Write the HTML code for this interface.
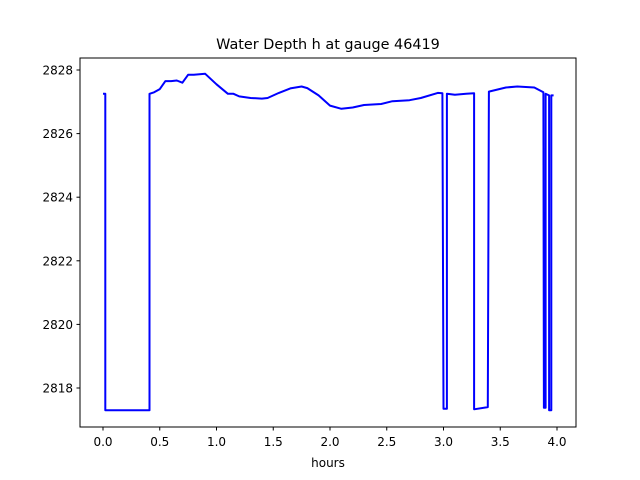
<!DOCTYPE html>
<html><head><meta charset="utf-8"><style>body{margin:0;background:#fff}svg{display:block;font-family:"DejaVu Sans","Liberation Sans",sans-serif}</style></head>
<body>
<svg id="chart" width="640" height="480">
<rect width="640" height="480" fill="#fff"/>
<text x="328" y="49" text-anchor="middle" font-size="14.4">Water Depth h at gauge 46419</text>
<g id="xt"></g>
<g id="yt"></g>
<polyline id="line" fill="none" stroke="#0000ff" stroke-width="2" stroke-linejoin="round"/>
<rect x="80" y="58" width="496" height="369" fill="none" stroke="#000" stroke-width="1"/>
<text x="328" y="467" text-anchor="middle" font-size="12">hours</text>
</svg>
<script>
const hours=[0,0.02,0.02,0.41,0.41,0.45,0.5,0.55,0.6,0.65,0.7,0.75,0.8,0.9,1.0,1.1,1.15,1.2,1.3,1.4,1.45,1.55,1.65,1.75,1.8,1.9,2.0,2.1,2.2,2.3,2.45,2.55,2.7,2.8,2.95,2.99,3.0,3.03,3.03,3.1,3.2,3.27,3.27,3.39,3.4,3.55,3.65,3.8,3.88,3.885,3.9,3.9,3.93,3.93,3.95,3.95,3.97];
const depth=[2827.25,2827.25,2817.3,2817.3,2827.25,2827.3,2827.4,2827.65,2827.65,2827.67,2827.6,2827.85,2827.85,2827.88,2827.55,2827.25,2827.25,2827.17,2827.12,2827.1,2827.12,2827.28,2827.42,2827.48,2827.43,2827.2,2826.88,2826.78,2826.82,2826.9,2826.93,2827.02,2827.05,2827.12,2827.28,2827.27,2817.35,2817.35,2827.25,2827.22,2827.25,2827.27,2817.33,2817.4,2827.32,2827.45,2827.48,2827.45,2827.3,2817.38,2817.38,2827.25,2827.2,2817.3,2817.3,2827.2,2827.2];
const xTicks=[0,0.5,1,1.5,2,2.5,3,3.5,4];
const yTicks=[2818,2820,2822,2824,2826,2828];
const xs=t=>103+t*113.5;
const ys=v=>70+(2828-v)*31.8;
const NS='http://www.w3.org/2000/svg';
const line=document.getElementById('line');
line.setAttribute('points',hours.map((t,i)=>xs(t).toFixed(1)+','+ys(depth[i]).toFixed(1)).join(' '));
const xt=document.getElementById('xt'),yt=document.getElementById('yt');
xTicks.forEach(t=>{const l=document.createElementNS(NS,'line');


l.setAttribute('x1',xs(t));l.setAttribute('x2',xs(t));l.setAttribute('y1',427);l.setAttribute('y2',430.5);l.setAttribute('stroke','#000');xt.appendChild(l);
const s=document.createElementNS(NS,'text');


s.setAttribute('x',xs(t));s.setAttribute('y',446);s.setAttribute('text-anchor','middle');s.setAttribute('font-size','12');s.textContent=t.toFixed(1);xt.appendChild(s);});
yTicks.forEach(v=>{const l=document.createElementNS(NS,'line');


l.setAttribute('x1',76.5);l.setAttribute('x2',80);l.setAttribute('y1',ys(v));l.setAttribute('y2',ys(v));l.setAttribute('stroke','#000');yt.appendChild(l);
const s=document.createElementNS(NS,'text');


s.setAttribute('x',73);s.setAttribute('y',ys(v)+4.5);s.setAttribute('text-anchor','end');s.setAttribute('font-size','12');s.textContent=v;yt.appendChild(s);});
</script>
</body></html>
